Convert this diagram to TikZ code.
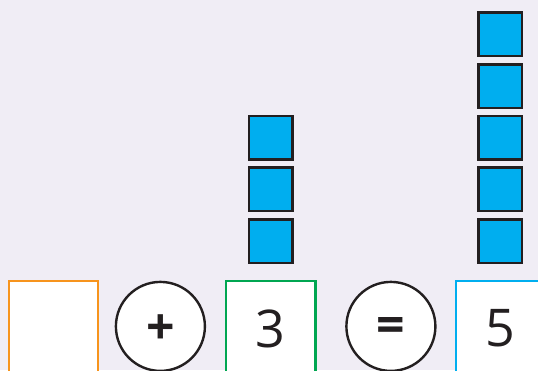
\documentclass[tikz,border=0pt]{standalone}
\usepackage{fontspec}
\setmainfont{Open Sans}
\definecolor{bg}{RGB}{240,237,245}
\definecolor{ink}{HTML}{231F20}
\definecolor{cyanb}{HTML}{00AEEF}
\definecolor{orangeb}{HTML}{F7941D}
\definecolor{greenb}{HTML}{00A651}
\begin{document}
\begin{tikzpicture}[x=1pt,y=-1pt,
  answerbox/.style={draw=#1, fill=white, line width=2.4pt, minimum width=89.5pt, minimum height=120pt, inner sep=0pt},
  digit/.style={label={[text=ink, font=\fontsize{52}{52}\selectfont, inner sep=0pt, yshift=12.4pt]center:#1}},
  opcircle/.style={circle, draw=ink, fill=white, line width=2.4pt, minimum size=89pt, inner sep=0pt},
  opsign/.style={label={[text=ink, font=\fontsize{50}{50}\selectfont\bfseries, inner sep=0pt, yshift=-3.5pt]center:#1}},
  cube/.style={draw=ink, fill=cyanb, line width=2.5pt, minimum size=43.5pt, inner sep=0pt}]
\useasboundingbox (0,0) rectangle (538,370);
\fill[bg] (0,0) rectangle (538,370);
\clip (0,0) rectangle (538,370);
\node[answerbox=orangeb] (b1) at (53.5,341) {};
\node[opcircle, opsign=+] (plus) at (160.4,326.4) {};
\node[answerbox=greenb, digit=3] (b2) at (270.6,341) {};
\node[opcircle, opsign={=}] (eq) at (390.9,326.4) {};
\node[answerbox=cyanb, digit=5] (b3) at (500.5,341) {};
\foreach \i/\y in {1/241,2/189.3,3/137.6}
  \node[cube] (g\i) at (270.8,\y) {};
\foreach \i/\y in {1/241,2/189.3,3/137.6,4/86,5/34.3}
  \node[cube] (r\i) at (500.2,\y) {};
\end{tikzpicture}
\end{document}
